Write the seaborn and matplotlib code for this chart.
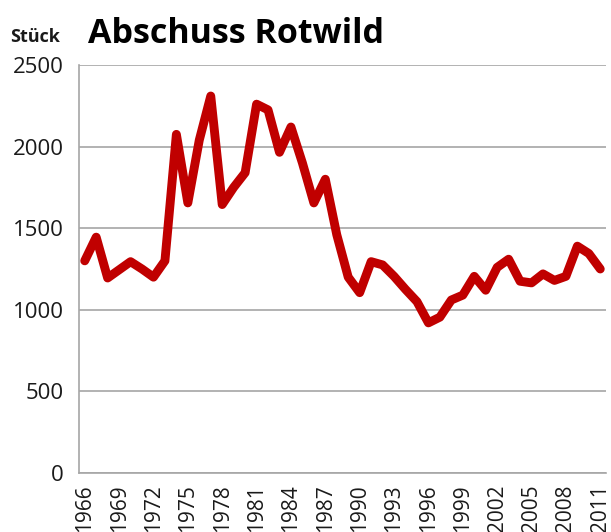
import numpy as np
import pandas as pd
import matplotlib
matplotlib.use("Agg")
import matplotlib.pyplot as plt
import seaborn as sns

# Annual red deer harvest (Rotwild), 1966-2011
years = list(range(1966, 2012))
harvest = [
    1300, 1445, 1195, 1245, 1295, 1250, 1200, 1300, 2075, 1655,
    2040, 2310, 1645, 1750, 1840, 2260, 2225, 1965, 2120, 1900,
    1655, 1800, 1460, 1200, 1105, 1295, 1275, 1205, 1125, 1050,
    920, 955, 1060, 1090, 1205, 1120, 1260, 1310, 1175, 1165,
    1220, 1180, 1205, 1390, 1345, 1250,
]
label_years = list(range(1966, 2012, 3))
y_ticks = [0, 500, 1000, 1500, 2000, 2500]

df = pd.DataFrame({"Jahr": years, "Stück": harvest})

sns.set_style("white")
plt.rcParams["font.family"] = ["Open Sans", "DejaVu Sans"]

fig = plt.figure(figsize=(6.11, 5.32), dpi=100)
ax = fig.add_axes([79 / 611, 1 - 473 / 532, (606 - 79) / 611, (473 - 65) / 532])

grid_col = "#A6A6A6"
ax.set_axisbelow(True)
ax.yaxis.grid(True, color=grid_col, linewidth=1.2)

sns.lineplot(data=df, x="Jahr", y="Stück", ax=ax, color="#C00000",
             linewidth=6.4, solid_joinstyle="round", solid_capstyle="round")

ax.set_xlim(years[0] - 0.5, years[-1] + 0.5)
ax.set_ylim(0, 2500)
ax.set_yticks(y_ticks)
ax.set_yticklabels([str(v) for v in y_ticks], fontsize=16, color="#1a1a1a")
ax.set_xticks(label_years)
ax.set_xticklabels([str(y) for y in label_years], rotation=90, fontsize=15,
                   color="#1a1a1a")
ax.set_xticks(np.arange(years[0] - 0.5, years[-1] + 1.0, 1.0), minor=True)

ax.tick_params(axis="x", which="major", length=0, pad=8)
ax.tick_params(axis="x", which="minor", length=5, width=1.2, color=grid_col,
               direction="out")
ax.tick_params(axis="y", which="major", length=5, width=1.2, color=grid_col,
               direction="out", pad=6)

for side in ["top", "right"]:
    ax.spines[side].set_visible(False)
for side in ["left", "bottom"]:
    ax.spines[side].set_color(grid_col)
    ax.spines[side].set_linewidth(1.2)

ax.set_xlabel("")
ax.set_ylabel("")

fig.text(10 / 611, 1 - 42 / 532, "Stück", fontsize=13, fontweight="bold",
         color="#1a1a1a", ha="left", va="baseline")
fig.text(88 / 611, 1 - 43 / 532, "Abschuss Rotwild", fontsize=24.5,
         fontweight="bold", color="black", ha="left", va="baseline")

fig.savefig("out.png", dpi=100)
